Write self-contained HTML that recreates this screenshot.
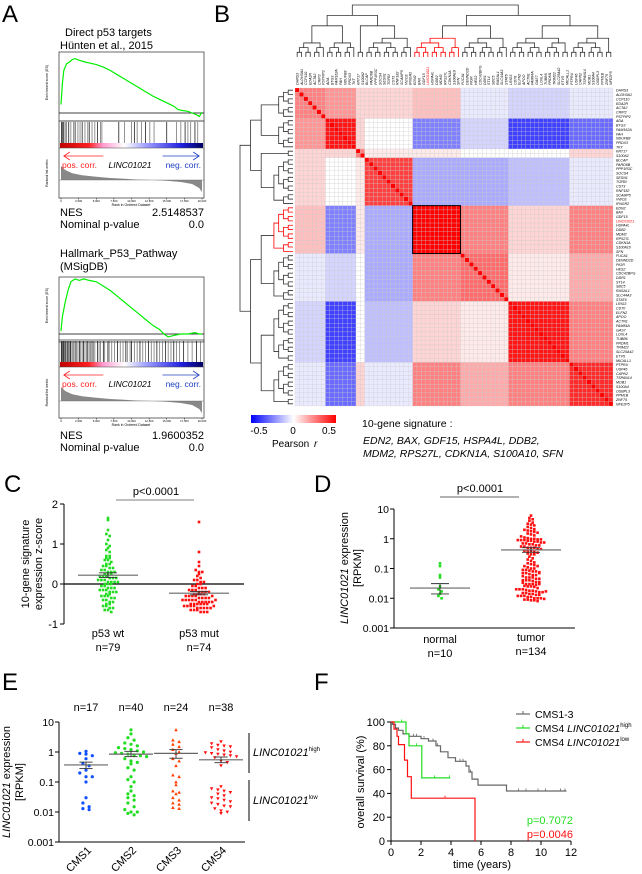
<!DOCTYPE html>
<html><head><meta charset="utf-8">
<style>
html,body{margin:0;padding:0;background:#fff;}
svg{display:block;font-family:"Liberation Sans",Arial,sans-serif;}
</style></head>
<body>
<svg id="fig" width="642" height="874" viewBox="0 0 642 874" xmlns="http://www.w3.org/2000/svg">
<defs>
<linearGradient id="gseaBar" x1="0" x2="1" y1="0" y2="0">
<stop offset="0" stop-color="#c00000"/><stop offset="0.2" stop-color="#ff2020"/><stop offset="0.3" stop-color="#ff9ad0"/><stop offset="0.45" stop-color="#ffffff"/><stop offset="0.6" stop-color="#a0a0ff"/><stop offset="0.85" stop-color="#2020e0"/><stop offset="1" stop-color="#000060"/>
</linearGradient>
<linearGradient id="pearsonBar" x1="0" x2="1" y1="0" y2="0">
<stop offset="0" stop-color="#0000ff"/><stop offset="0.5" stop-color="#ffffff"/><stop offset="1" stop-color="#ff0000"/>
</linearGradient>
</defs>
<g id="root"></g>
</svg>
<script>
// ===== Panel A data =====
const es1Ranks=[0,0.01,0.02,0.04,0.06,0.08,0.1,0.13,0.17,0.2,0.25,0.3,0.35,0.4,0.45,0.5,0.55,0.6,0.65,0.7,0.75,0.8,0.83,0.86,0.9,0.93,0.96,0.98,1];
const es1Values=[0.1,0.35,0.5,0.58,0.6,0.63,0.64,0.62,0.6,0.59,0.57,0.54,0.5,0.45,0.4,0.35,0.3,0.25,0.2,0.16,0.12,0.08,0.04,0.03,0.02,0.0,-0.02,-0.04,0.01];
const es1Hits=[0.003,0.008,0.013,0.02,0.03,0.04,0.055,0.07,0.09,0.1,0.12,0.135,0.15,0.17,0.19,0.2,0.22,0.24,0.26,0.28,0.29,0.41,0.45,0.5,0.52,0.54,0.57,0.6,0.63,0.66,0.75,0.82,0.85,0.88,0.9,0.92,0.95,0.97];
const es2Ranks=[0,0.01,0.03,0.05,0.07,0.1,0.13,0.16,0.2,0.25,0.3,0.35,0.4,0.45,0.5,0.55,0.6,0.65,0.7,0.73,0.76,0.8,0.85,0.9,0.95,0.98,1];
const es2Values=[0.02,0.12,0.22,0.3,0.36,0.38,0.37,0.38,0.37,0.36,0.33,0.3,0.26,0.22,0.18,0.14,0.1,0.06,0.03,0.0,-0.02,-0.01,0.0,0.0,0.01,0.0,0.0];
const es2Hits=[0.002,0.006,0.01,0.015,0.02,0.025,0.03,0.037,0.045,0.05,0.058,0.065,0.07,0.08,0.09,0.1,0.11,0.12,0.13,0.14,0.15,0.16,0.17,0.18,0.19,0.2,0.21,0.22,0.23,0.24,0.26,0.27,0.28,0.3,0.31,0.33,0.34,0.36,0.38,0.4,0.42,0.44,0.46,0.47,0.49,0.5,0.52,0.54,0.56,0.58,0.6,0.62,0.64,0.66,0.68,0.7,0.72,0.74,0.76,0.78,0.8,0.82,0.84,0.87,0.9,0.93,0.96,0.99];
const rankedFracs=[0,0.03,0.08,0.15,0.25,0.35,0.45,0.55,0.65,0.75,0.85,0.93,0.98,1];
const rankedValues=[0.35,0.25,0.17,0.12,0.08,0.05,0.03,0.01,0,-0.02,-0.05,-0.1,-0.2,-0.3];
const rankTicks=["0","2,500","5,000","7,500","10,000","12,500","15,000","17,500","20,000"];

// ===== Panel B data =====
const geneNames=["DHRS3","ALDH3A1","CCP110","EDA2R","ACTA2","CRIP2","PSTPIP2","ADA","BTG3","FAM162A","FAH","NDUFB8","PRDX3","TKT","KRT17","S100A2","BLCAP","PARD6B","PPP1R3C","SOCS4","SESN1","TGFBI","CST3","RNF182","SCAMP5","VWCE","IFNGR2","EDN2","BAX","GDF15","LINC01021","HSPA4L","DDB2","MDM2","RPS27L","CDKN1A","S100A10","SFN","FUCA1","DENND2D","PIGR","HES2","CDC42BPG","DDR1","ST14","SBC5","RASAL1","SLC44A3","STAT6","LRIG3","CD70","ELFN2","APOO","ACTN1","FAM84A","GAS7","LOXL4","TUBB6","PRDM1","TRIM22","SLC25A42","ETV5","MICALL1","PTPRU","USP46","CAPN2","TSPAN14","MOB1","S100A4","OSBPL3","PPM1B","ZNF75","NFE2P5"];
const geneCluster=[0,0,0,0,0,0,0,1,1,1,1,1,1,1,2,2,3,3,3,3,3,3,3,3,3,3,3,4,4,4,4,4,4,4,4,4,4,4,5,5,5,5,5,5,5,5,5,5,5,6,6,6,6,6,6,6,6,6,6,6,6,6,6,7,7,7,7,7,7,7,7,7,7];
const clusterCorr=[
[0.30,0.25,0.10,0.10,0.15,-0.05,-0.10,-0.05],
[0.25,0.55,0.10,0.00,-0.30,-0.10,-0.45,-0.35],
[0.10,0.10,0.30,0.05,0.05,0.00,0.00,0.10],
[0.10,0.00,0.05,0.45,-0.20,-0.20,-0.15,-0.05],
[0.15,-0.30,0.05,-0.20,0.60,0.30,0.10,0.30],
[-0.05,-0.10,0.00,-0.20,0.30,0.35,0.05,0.20],
[-0.10,-0.45,0.00,-0.15,0.10,0.05,0.55,0.30],
[-0.05,-0.35,0.10,-0.05,0.30,0.20,0.30,0.50]];
const signatureCluster=4;

// ===== Panel C data =====
const cWt=[1.65,1.6,1.35,1.25,1.2,1.1,1.0,0.95,0.9,0.85,0.8,0.7,0.7,0.65,0.65,0.6,0.6,0.55,0.5,0.5,0.45,0.45,0.4,0.4,0.35,0.35,0.3,0.3,0.3,0.25,0.25,0.25,0.2,0.2,0.2,0.15,0.15,0.15,0.1,0.1,0.1,0.05,0.05,0.05,0.05,0,0,0,-0.05,-0.05,-0.1,-0.1,-0.1,-0.15,-0.15,-0.15,-0.2,-0.2,-0.2,-0.25,-0.25,-0.3,-0.3,-0.3,-0.35,-0.35,-0.4,-0.4,-0.45,-0.45,-0.5,-0.5,-0.55,-0.55,-0.6,-0.6,-0.65,-0.65,-0.7];
const cMut=[1.55,0.8,0.55,0.45,0.35,0.3,0.3,0.25,0.2,0.15,0.1,0.1,0.05,0.05,0,0,-0.05,-0.05,-0.1,-0.1,-0.1,-0.15,-0.15,-0.15,-0.2,-0.2,-0.2,-0.2,-0.25,-0.25,-0.25,-0.25,-0.3,-0.3,-0.3,-0.3,-0.35,-0.35,-0.35,-0.35,-0.4,-0.4,-0.4,-0.4,-0.4,-0.45,-0.45,-0.45,-0.45,-0.45,-0.5,-0.5,-0.5,-0.5,-0.5,-0.55,-0.55,-0.55,-0.55,-0.6,-0.6,-0.6,-0.6,-0.65,-0.65,-0.65,-0.7,-0.7,-0.7,-0.5,-0.4,-0.3,-0.6,-0.55];
const cMeans=[0.22,-0.23];
const cSem=[0.06,0.04];
const cTicks=[2,1,0,-1];

// ===== Panel D data =====
const dNormal=[0.15,0.12,0.06,0.05,0.025,0.02,0.017,0.014,0.012,0.01];
const dTumor=[6,5,4.5,4,3.5,3.2,3,2.8,2.5,2.3,2.1,2,1.9,1.8,1.7,1.6,1.5,1.4,1.3,1.2,1.1,1.05,1,1,0.95,0.95,0.9,0.9,0.9,0.85,0.85,0.8,0.8,0.75,0.75,0.7,0.7,0.65,0.65,0.6,0.6,0.55,0.55,0.5,0.5,0.5,0.45,0.45,0.4,0.4,0.38,0.36,0.34,0.32,0.3,0.3,0.2,0.18,0.16,0.15,0.14,0.13,0.12,0.11,0.1,0.1,0.09,0.09,0.085,0.08,0.08,0.075,0.07,0.07,0.065,0.06,0.06,0.055,0.05,0.05,0.05,0.045,0.045,0.04,0.04,0.04,0.038,0.035,0.035,0.033,0.03,0.03,0.03,0.028,0.026,0.025,0.025,0.024,0.022,0.02,0.02,0.02,0.019,0.018,0.018,0.017,0.016,0.016,0.015,0.015,0.014,0.014,0.013,0.013,0.012,0.012,0.012,0.011,0.011,0.01,0.01,0.01,0.0095,0.009,0.009,0.0085,0.0085,0.008,0.25,0.22,0.12,0.07,0.03,0.017];
const dMeans=[0.022,0.42];
const dLo=[0.014,0.35];
const dHi=[0.031,0.5];
const logTicks=["10","1","0.1","0.01","0.001"];

// ===== Panel E data =====
const eCats=["CMS1","CMS2","CMS3","CMS4"];
const eN=["n=17","n=40","n=24","n=38"];
const eCMS1=[1.05,0.9,0.85,0.75,0.6,0.4,0.35,0.25,0.2,0.15,0.15,0.1,0.03,0.02,0.015,0.013,0.012];
const eCMS2=[5.5,4,3,2.5,2,1.8,1.6,1.4,1.3,1.2,1.1,1,0.95,0.9,0.85,0.8,0.75,0.7,0.6,0.5,0.45,0.4,0.3,0.25,0.15,0.12,0.1,0.07,0.05,0.04,0.035,0.03,0.025,0.02,0.015,0.012,0.01,0.01,0.009,0.008];
const eCMS3=[5.5,2.5,2.2,1.8,1.5,1.2,1,0.9,0.6,0.5,0.35,0.17,0.15,0.1,0.08,0.05,0.045,0.04,0.03,0.025,0.02,0.018,0.014,0.013];
const eCMS4=[2.2,1.9,1.7,1.6,1.5,1.4,1.2,1.1,1,0.95,0.9,0.85,0.8,0.75,0.7,0.65,0.5,0.45,0.35,0.07,0.06,0.055,0.05,0.045,0.04,0.035,0.03,0.028,0.025,0.022,0.02,0.018,0.016,0.015,0.013,0.011,0.01,0.009];
const eMeans=[0.37,0.85,0.9,0.55];
const eLo=[0.28,0.7,0.62,0.44];
const eHi=[0.46,1.05,1.2,0.68];

// ===== Panel F data =====
const kmGrayT=[0,0.1,0.3,0.5,0.8,1.2,2.0,2.5,3.0,3.3,3.8,4.3,5.0,5.2,5.4,5.8,7.7,11.7];
const kmGrayS=[100,98,95,93,90,88,86,84,80,75,70,67,63,58,52,47,42,42];
const kmGreenT=[0,0.6,1.0,1.2,2.05,3.95];
const kmGreenS=[100,100,90,80,53,53];
const kmRedT=[0,0.2,0.4,0.5,0.9,1.1,1.35,5.6,5.6];
const kmRedS=[100,94,88,81,68,54,36,36,0];
const kmCensGray=[1.5,1.7,2.2,2.8,3.1,4.6,4.8,5.3,8.5,9.0,9.8,10.3,11.3,11.6];
const kmCensGreen=[0.7,1.7,2.9,3.9];
const kmCensRed=[3.6];
const kmXTicks=[0,2,4,6,8,10,12];
const kmYTicks=[0,20,40,60,80,100];

// ===== helpers =====
const NS="http://www.w3.org/2000/svg";
const root=document.getElementById('root');
function mk(tag,attrs,parent,text){const e=document.createElementNS(NS,tag);for(const k in attrs)e.setAttribute(k,attrs[k]);if(text!==undefined)e.textContent=text;(parent||root).appendChild(e);return e;}
function grp(name,parent){const g=mk('g',{},parent);


return g;}
function txt(parent,x,y,s,size,opts){opts=opts||{};const t=mk('text',{x:x,y:y,'font-size':size,fill:opts.fill||'#000','text-anchor':opts.anchor||'start'},parent,s);if(opts.italic)t.setAttribute('font-style','italic');if(opts.rot!==undefined)t.setAttribute('transform','rotate('+opts.rot+' '+x+' '+y+')');


return t;}
function line(parent,x1,y1,x2,y2,stroke,w){return mk('line',{x1:x1,y1:y1,x2:x2,y2:y2,stroke:stroke||'#000','stroke-width':w||1},parent);}

// panel letters
[["A",2,22],["B",214,22],["C",4,492],["D",314,492],["E",2,690],["F",314,690]].forEach(p=>{txt(root,p[1],p[2],p[0],24,{name:'panel-label-'+p[0].toLowerCase()});});

// ===== Panel A =====
function gsea(name,top,title1,title2,ranks,vals,hits,esTop,esZero,esScale,hitTop,barTop,rankTop,rankBot,rankZero,nes,nesY){
  const g=grp(name);
  txt(g,name==='gsea-direct-p53'?65:60,top,title1,11,{name:'gsea-title'});
  txt(g,60,top+13,title2,11,{name:'gsea-title'});
  const x0=59,x1=204,px=f=>61+f*(x1-63);
  mk('rect',{x:x0,y:esTop,width:x1-x0,height:esZero-esTop+8,fill:'none',stroke:'#444','stroke-width':0.8},g);
  line(g,x0,esZero,x1,esZero,'#000',0.8);
  mk('rect',{x:x0,y:hitTop,width:x1-x0,height:rankBot-hitTop,fill:'none',stroke:'#444','stroke-width':0.8},g);
  hits.forEach((h,i)=>{const l=line(g,px(h),hitTop+1,px(h),barTop,i%3===0?'#000':'#666',0.7);
  
  });
  mk('rect',{x:x0+1,y:barTop,width:x1-x0-2,height:5,fill:'url(#gseaBar)'},g);
  line(g,x0,barTop+5,x1,barTop+5,'#444',0.6);
  const pts=ranks.map((r,i)=>px(r).toFixed(1)+','+(esZero-vals[i]*esScale).toFixed(1)).join(' ');
  const pl=mk('polyline',{points:pts,fill:'none',stroke:'#00ee00','stroke-width':1.2},g);
  
  
  const ry=v=>rankZero-v*40;
  let d='M'+px(0)+','+rankZero;rankedFracs.forEach((f,i)=>{d+=' L'+px(f).toFixed(1)+','+ry(rankedValues[i]).toFixed(1);});d+=' L'+px(1)+','+rankZero+' Z';
  const ar=mk('path',{d:d,fill:'#888'},g);
  
  
  line(g,x0,rankZero,x1,rankZero,'#666',0.4);
  const ay=barTop+13;
  line(g,px(0.02),ay,px(0.3),ay,'#ff2020',0.8);mk('path',{d:`M${px(0.02)+6},${ay-4} L${px(0.02)},${ay} L${px(0.02)+6},${ay+4}`,fill:'none',stroke:'#ff2020','stroke-width':0.8},g);
  line(g,px(0.72),ay,px(0.98),ay,'#2040c0',0.8);mk('path',{d:`M${px(0.98)-6},${ay-4} L${px(0.98)},${ay} L${px(0.98)-6},${ay+4}`,fill:'none',stroke:'#2040c0','stroke-width':0.8},g);
  txt(g,62,ay+12,'pos. corr.',8.5,{fill:'#ff2020',name:'pos-corr-label'});
  txt(g,130,ay+12,'LINC01021',8.5,{italic:true,anchor:'middle',name:'gene-label'});
  txt(g,201,ay+12,'neg. corr.',8.5,{fill:'#2040c0',anchor:'end',name:'neg-corr-label'});
  rankTicks.forEach((t,i)=>{const x=px(i/(rankTicks.length-1));line(g,x,rankBot,x,rankBot+1.5,'#000',0.5);txt(g,x,rankBot+4,t,2.8,{anchor:'middle',name:'rank-tick'});});
  txt(g,131,rankBot+8,'Rank in Ordered Dataset',3.5,{anchor:'middle',name:'x-axis-title'});
  txt(g,48,(esTop+esZero)/2,'Enrichment score (ES)',3.5,{anchor:'middle',rot:-90,name:'y-axis-title'});
  txt(g,48,(rankTop+rankBot)/2,'Ranked list metric',3.5,{anchor:'middle',rot:-90,name:'y-axis-title'});
  txt(g,60,nesY,'NES',11,{name:'nes-label'});txt(g,204,nesY,nes,11,{anchor:'end',name:'nes-value'});
  txt(g,60,nesY+12,'Nominal p-value',11,{name:'pvalue-label'});txt(g,204,nesY+12,'0.0',11,{anchor:'end',name:'pvalue-value'});
}
gsea('gsea-direct-p53',36,'Direct p53 targets','Hünten et al., 2015',es1Ranks,es1Values,es1Hits,52,113,85,121,143,148,198,180,'2.5148537',216);
gsea('gsea-hallmark-p53',257,'Hallmark_P53_Pathway','(MSigDB)',es2Ranks,es2Values,es2Hits,277,334,145,340,362,367,418,401,'1.9600352',439);

// ===== Panel B: heatmap =====
(function(){
  const g=grp('correlation-heatmap');
  const N=geneNames.length,hx=295,hy=88,W=318,cs=W/N;
  const col=v=>{const t=Math.max(-1,Math.min(1,v/0.6));if(t>=0){const c=Math.round(255*(1-t));return `rgb(255,${c},${c})`;}const c=Math.round(255*(1+t));return `rgb(${c},${c},255)`;};
  for(let i=0;i<N;i++)for(let j=0;j<N;j++){
    const v=i===j?1:clusterCorr[geneCluster[i]][geneCluster[j]];
    const r=mk('rect',{x:(hx+j*cs).toFixed(2),y:(hy+i*cs).toFixed(2),width:cs.toFixed(2),height:cs.toFixed(2),fill:col(v),stroke:'#c8c8c8','stroke-width':0.25},g);
    
    
  }
  let s0=geneCluster.indexOf(signatureCluster),s1=geneCluster.lastIndexOf(signatureCluster);
  const bx=mk('rect',{x:hx+s0*cs,y:hy+s0*cs,width:(s1-s0+1)*cs,height:(s1-s0+1)*cs,fill:'none',stroke:'#000','stroke-width':1},g);
  
  
  geneNames.forEach((n,i)=>{const red=n==='LINC01021';
    txt(g,hx+W+3,hy+i*cs+cs*0.85,n,3.6,{italic:true,fill:red?'#ff0000':'#000',name:'row-gene-label'});
    txt(g,hx+i*cs+cs*0.8,85,n,3.6,{italic:true,fill:red?'#ff0000':'#000',rot:-90,name:'column-gene-label'});});
  function buildTree(){
    const clusters=[];geneCluster.forEach((c,i)=>{if(!clusters[c])clusters[c]=[];clusters[c].push({pos:i+0.5,h:0,c:c});});
    const segs=[];
    function mergeLevel(nodes,baseH,step){let lvl=0;while(nodes.length>1){lvl++;const nx=[];for(let k=0;k<nodes.length;k+=2){if(k+1<nodes.length){const a=nodes[k],b=nodes[k+1],h=baseH+lvl*step;segs.push({a:a,b:b,h:h,c:a.c===b.c?a.c:-1});nx.push({pos:(a.pos+b.pos)/2,h:h,c:a.c===b.c?a.c:-1});}else nx.push(nodes[k]);}nodes=nx;}return nodes[0];}
    const tops=clusters.map(cl=>mergeLevel(cl,0,0.09));
    mergeLevel(tops.map(t=>({pos:t.pos,h:t.h,c:-1})),0.4,0.2);
    return segs;}
  const segs=buildTree();
  const maxH=1.0;
  const tg=grp('top-dendrogram');const lg=grp('left-dendrogram');
  segs.forEach(s=>{const color=s.c===signatureCluster?'#ff0000':'#333';
    const ty=h=>57-h/maxH*52, ax=p=>hx+p*cs;
    mk('path',{d:`M${ax(s.a.pos)},${ty(s.a.h)} V${ty(s.h)} H${ax(s.b.pos)} V${ty(s.b.h)}`,fill:'none',stroke:color,'stroke-width':0.8},tg);
    const lx=h=>293-h/maxH*53, ay=p=>hy+p*cs;
    mk('path',{d:`M${lx(s.a.h)},${ay(s.a.pos)} H${lx(s.h)} V${ay(s.b.pos)} H${lx(s.b.h)}`,fill:'none',stroke:color,'stroke-width':0.8},lg);});
  const cb=grp('pearson-colorbar');
  mk('rect',{x:251,y:415,width:85,height:8,fill:'url(#pearsonBar)'},cb);
  txt(cb,259,434,'-0.5',10,{anchor:'middle',name:'colorbar-tick'});txt(cb,293,434,'0',10,{anchor:'middle',name:'colorbar-tick'});txt(cb,329,434,'0.5',10,{anchor:'middle',name:'colorbar-tick'});
  txt(cb,272,447,'Pearson ',10,{name:'colorbar-title'});txt(cb,314,447,'r',10,{italic:true,name:'colorbar-title-r'});
  const sg=grp('signature-legend');
  txt(sg,362,427,'10-gene signature :',10.5,{name:'signature-title'});
  txt(sg,363,444,'EDN2, BAX, GDF15, HSPA4L, DDB2,',10.5,{italic:true,name:'signature-genes'});
  txt(sg,363,457,'MDM2, RPS27L, CDKN1A, S100A10, SFN',10.5,{italic:true,name:'signature-genes'});
})();

// ===== swarm helper =====
function swarm(g,vals,cx,ys,d,maxPerRow,shape,color,name){
  const bins={};vals.forEach(v=>{const y=ys(v);const k=Math.round(y/d);(bins[k]=bins[k]||[]).push(y);});
  Object.keys(bins).forEach(k=>{const arr=bins[k];arr.forEach((y,i)=>{
    const n=arr.length,off=(i-(n-1)/2)*d*(maxPerRow||1);const x=cx+off;let e;
    if(shape==='sq')e=mk('rect',{x:(x-1.3).toFixed(1),y:(y-1.3).toFixed(1),width:2.6,height:2.6,fill:color},g);
    else if(shape==='ci')e=mk('circle',{cx:x.toFixed(1),cy:y.toFixed(1),r:1.6,fill:color},g);
    else if(shape==='up')e=mk('path',{d:`M${x.toFixed(1)},${(y-1.8).toFixed(1)} l1.8,3.2 h-3.6 Z`,fill:color},g);
    else e=mk('path',{d:`M${x.toFixed(1)},${(y+1.8).toFixed(1)} l1.8,-3.2 h-3.6 Z`,fill:color},g);
    
    
  });});}
function meanBar(g,cx,ym,ylo,yhi,hw){line(g,cx-hw,ym,cx+hw,ym,'#666',1.2);line(g,cx,ylo,cx,yhi,'#333',0.9);line(g,cx-hw*0.3,ylo,cx+hw*0.3,ylo,'#333',0.9);line(g,cx-hw*0.3,yhi,cx+hw*0.3,yhi,'#333',0.9);}

// ===== Panel C =====
(function(){const g=grp('panel-c-scatter');
  const ax=64,yS=v=>584-v*40;
  line(g,ax,yS(2),ax,yS(-1),'#000',1);
  cTicks.forEach(t=>{line(g,ax-4,yS(t),ax,yS(t),'#000',1);txt(g,ax-6,yS(t)+4,String(t),11,{anchor:'end',name:'y-tick-label'});});
  line(g,ax,yS(0),244,yS(0),'#000',1.2);
  const cx=[108,199];
  swarm(g,cWt,cx[0],yS,3.3,1,'sq','#22dd22','wt-point');
  swarm(g,cMut,cx[1],yS,3.3,1,'sq','#ff1010','mut-point');
  cx.forEach((x,i)=>meanBar(g,x,yS(cMeans[i]),yS(cMeans[i]-cSem[i]),yS(cMeans[i]+cSem[i]),30));
  txt(g,108,637,'p53 wt',11,{anchor:'middle',name:'x-category-label'});txt(g,108,651,'n=79',11,{anchor:'middle',name:'x-category-n'});
  txt(g,199,637,'p53 mut',11,{anchor:'middle',name:'x-category-label'});txt(g,199,651,'n=74',11,{anchor:'middle',name:'x-category-n'});
  line(g,116,500,194,500,'#aaa',1.5);txt(g,156,495,'p<0.0001',11,{anchor:'middle',name:'p-value-label'});
  txt(g,29,564,'10-gene signature',11,{anchor:'middle',rot:-90,name:'y-axis-title'});
  txt(g,42,564,'expression z-score',11,{anchor:'middle',rot:-90,name:'y-axis-title'});
})();

// ===== Panel D =====
(function(){const g=grp('panel-d-scatter');
  const ax=394,yS=v=>509+(1-Math.log10(v))*29.75;
  line(g,ax,509,ax,628,'#000',1);line(g,ax,628,575,628,'#000',1);
  logTicks.forEach((t,i)=>{const y=509+i*29.75;line(g,ax-4,y,ax,y,'#000',1);txt(g,ax-5,y+4,t,10.5,{anchor:'end',name:'y-tick-label'});});
  const cx=[440,531];
  swarm(g,dNormal,cx[0],yS,3.3,1,'sq','#22dd22','normal-point');
  swarm(g,dTumor,cx[1],yS,3.3,1,'sq','#ff1010','tumor-point');
  cx.forEach((x,i)=>meanBar(g,x,yS(dMeans[i]),yS(dLo[i]),yS(dHi[i]),30));
  txt(g,440,643,'normal',11,{anchor:'middle',name:'x-category-label'});txt(g,440,657,'n=10',11,{anchor:'middle',name:'x-category-n'});
  txt(g,531,641,'tumor',11,{anchor:'middle',name:'x-category-label'});txt(g,531,655,'n=134',11,{anchor:'middle',name:'x-category-n'});
  line(g,440,497,519,497,'#999',1.5);txt(g,480,492,'p<0.0001',11,{anchor:'middle',name:'p-value-label'});
  const t1=txt(g,348,568,'',11,{anchor:'middle',rot:-90,name:'y-axis-title'});
  mk('tspan',{'font-style':'italic'},t1,'LINC01021');mk('tspan',{},t1,' expression');
  txt(g,361,568,'[RPKM]',11,{anchor:'middle',rot:-90,name:'y-axis-title'});
})();

// ===== Panel E =====
(function(){const g=grp('panel-e-scatter');
  const ax=59,yS=v=>722+(1-Math.log10(v))*30;
  line(g,ax,722,ax,842,'#000',1);line(g,ax,842,245,842,'#000',1);
  logTicks.forEach((t,i)=>{const y=722+i*30;line(g,ax-4,y,ax,y,'#000',1);txt(g,ax-5,y+4,t,10.5,{anchor:'end',name:'y-tick-label'});});
  const cx=[86,131,176,221],sets=[eCMS1,eCMS2,eCMS3,eCMS4],shapes=['ci','ci','up','dn'],cols=['#1050ff','#22dd22','#ff4000','#ff1010'];
  sets.forEach((s,i)=>{swarm(g,s,cx[i],yS,5,1.25,shapes[i],cols[i],'cms-point');meanBar(g,cx[i],yS(eMeans[i]),yS(eLo[i]),yS(eHi[i]),22);
    txt(g,cx[i],711,eN[i],11,{anchor:'middle',name:'group-n-label'});
    txt(g,cx[i]+6,851,eCats[i],11,{anchor:'end',rot:-45,name:'x-category-label'});});
  line(g,249,733,249,773,'#000',1);line(g,249,780,249,821,'#000',1);
  const a=txt(g,253,756,'',11,{italic:true,name:'high-group-label'});mk('tspan',{},a,'LINC01021');mk('tspan',{'font-size':6,dy:-5,'font-style':'normal'},a,'high');
  const b=txt(g,253,804,'',11,{italic:true,name:'low-group-label'});mk('tspan',{},b,'LINC01021');mk('tspan',{'font-size':6,dy:-5,'font-style':'normal'},b,'low');
  const t1=txt(g,10,782,'',11,{anchor:'middle',rot:-90,name:'y-axis-title'});
  mk('tspan',{'font-style':'italic'},t1,'LINC01021');mk('tspan',{},t1,' expression');
  txt(g,23,782,'[RPKM]',11,{anchor:'middle',rot:-90,name:'y-axis-title'});
})();

// ===== Panel F =====
(function(){const g=grp('panel-f-km');
  const xS=t=>391+t*15,yS=s=>841-s*1.19;
  line(g,391,yS(100),391,841,'#000',1);line(g,391,841,571,841,'#000',1);
  kmYTicks.forEach(t=>{line(g,387,yS(t),391,yS(t),'#000',1);txt(g,385,yS(t)+4,String(t),11,{anchor:'end',name:'y-tick-label'});});
  kmXTicks.forEach(t=>{line(g,xS(t),841,xS(t),845,'#000',1);txt(g,xS(t),856,String(t),11,{anchor:'middle',name:'x-tick-label'});});
  txt(g,482,868,'time (years)',11,{anchor:'middle',name:'x-axis-title'});
  txt(g,364,782,'overall survival (%)',11,{anchor:'middle',rot:-90,name:'y-axis-title'});
  function km(T,S,cens,color,name){let d=`M${xS(T[0])},${yS(S[0])}`;for(let i=1;i<T.length;i++){d+=` H${xS(T[i]).toFixed(1)} V${yS(S[i]).toFixed(1)}`;}
    const p=mk('path',{d:d,fill:'none',stroke:color,'stroke-width':1.2},g);
    
    
    cens.forEach(c=>{let s=S[0];for(let i=0;i<T.length;i++)if(T[i]<=c)s=S[i];line(g,xS(c),yS(s)-2.5,xS(c),yS(s),color,0.8);});}
  km(kmGrayT,kmGrayS,kmCensGray,'#666','km-cms1-3');
  km(kmGreenT,kmGreenS,kmCensGreen,'#22dd22','km-cms4-high');
  km(kmRedT,kmRedS,kmCensRed,'#ff1010','km-cms4-low');
  const lg=grp('km-legend',g);
  [['#666','CMS1-3',null,717],['#22dd22','CMS4 ','high',731],['#ff1010','CMS4 ','low',745]].forEach(e=>{
    line(lg,516,e[3]-3,530,e[3]-3,e[0],1.2);line(lg,523,e[3]-6,523,e[3]-3,e[0],1);
    const t=txt(lg,535,e[3]+1,'',10.5,{name:'legend-entry'});mk('tspan',{},t,e[1]);
    if(e[2]){mk('tspan',{'font-style':'italic'},t,'LINC01021');mk('tspan',{'font-size':6,dy:-5},t,e[2]);}});
  txt(g,573,824,'p=0.7072',11,{anchor:'end',fill:'#22dd22',name:'p-value-high'});
  txt(g,573,838,'p=0.0046',11,{anchor:'end',fill:'#ff1010',name:'p-value-low'});
})();
</script>
</body></html>
